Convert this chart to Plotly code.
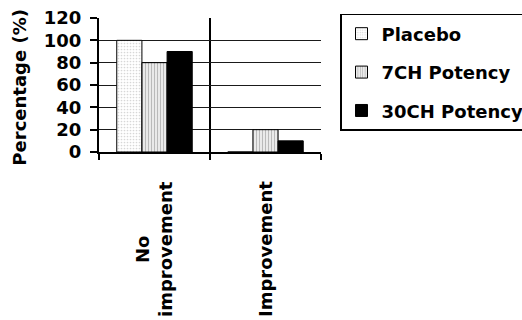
import plotly.graph_objects as go

# Outcome categories and percentage of patients per group
categories = ["No improvement", "Improvement"]
category_labels = ["No<br>improvement", "Improvement"]
placebo = [100, 0]
potency_7ch = [80, 20]
potency_30ch = [90, 10]

FONT = "DejaVu Sans"

fig = go.Figure()

fig.add_trace(go.Bar(
    name="Placebo", x=categories, y=placebo, legendgroup="a",
    marker=dict(color="white", line=dict(color="black", width=1),
                pattern=dict(shape=".", size=3, solidity=0.25,
                             fgcolor="#b0b0b0", bgcolor="white")),
))
fig.add_trace(go.Bar(
    name="7CH Potency", x=categories, y=potency_7ch, legendgroup="b",
    marker=dict(color="white", line=dict(color="black", width=1),
                pattern=dict(shape="|", size=3, solidity=0.45,
                             fgcolor="#808080", bgcolor="#f4f4f4")),
))
fig.add_trace(go.Bar(
    name="30CH Potency", x=categories, y=potency_30ch, legendgroup="c",
    marker=dict(color="black", line=dict(color="black", width=1)),
))

# Category labels, rotated and centred under each group
for cat, lab in zip(categories, category_labels):
    fig.add_annotation(
        x=cat, xref="x", y=-0.205, yref="paper",
        text=lab, textangle=-90, showarrow=False,
        xanchor="center", yanchor="top", align="center",
        font=dict(family=FONT, size=18, color="black", weight="bold"),
    )

# Y-axis title
fig.add_annotation(
    x=-0.36, xref="paper", y=0.481, yref="paper",
    text="Percentage (%)", textangle=-90, showarrow=False,
    xanchor="center", yanchor="middle",
    font=dict(family=FONT, size=18, color="black", weight="bold"),
)

fig.update_layout(
    width=522, height=320,
    margin=dict(l=99, r=201, t=18, b=168, autoexpand=False),
    paper_bgcolor="white", plot_bgcolor="white",
    barmode="group", bargap=0.32, bargroupgap=0,
    showlegend=True,
    legend=dict(
        x=1.0856, y=1.03, xanchor="left", yanchor="top",
        bordercolor="black", borderwidth=1.5, bgcolor="white",
        tracegroupgap=12,
        font=dict(family=FONT, size=18, color="black", weight="bold"),
    ),
    xaxis=dict(
        type="category", tickson="boundaries",
        showticklabels=False,
        showgrid=True, gridcolor="black", gridwidth=2,
        showline=True, linecolor="black", linewidth=2,
        ticks="outside", ticklen=6, tickwidth=2, tickcolor="black",
    ),
    yaxis=dict(
        range=[0, 120], dtick=20,
        showgrid=True, gridcolor="#1a1a1a", gridwidth=1.3,
        showline=True, linecolor="black", linewidth=2,
        ticks="outside", ticklen=7, tickwidth=1.5, tickcolor="black",
        ticklabelstandoff=5,
        tickfont=dict(family=FONT, size=18, color="black", weight="bold"),
        zeroline=False,
    ),
)

fig.write_html("out.html")
